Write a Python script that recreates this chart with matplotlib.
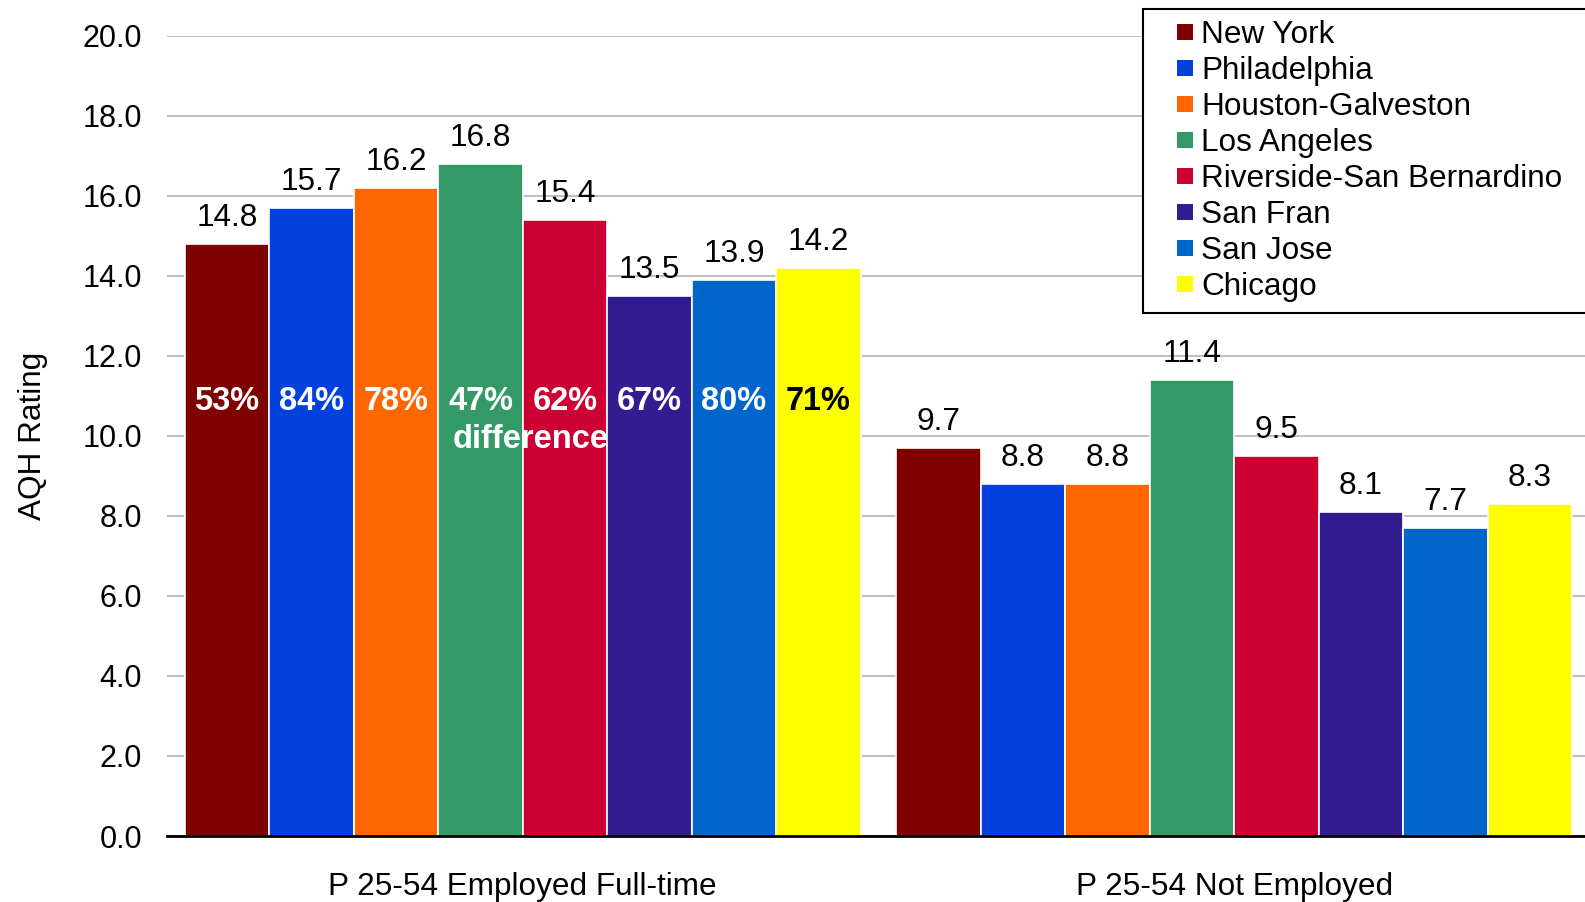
import matplotlib
matplotlib.use("Agg")
import matplotlib.pyplot as plt
import numpy as np
from matplotlib.lines import Line2D

plt.rcParams["font.family"] = ["Liberation Sans", "DejaVu Sans"]

# Data
categories = ["P 25-54 Employed Full-time", "P 25-54 Not Employed"]
markets = ["New York", "Philadelphia", "Houston-Galveston", "Los Angeles",
           "Riverside-San Bernardino", "San Fran", "San Jose", "Chicago"]
employed_fulltime = [14.8, 15.7, 16.2, 16.8, 15.4, 13.5, 13.9, 14.2]
not_employed = [9.7, 8.8, 8.8, 11.4, 9.5, 8.1, 7.7, 8.3]
pct_difference = [53, 84, 78, 47, 62, 67, 80, 71]

colors = ["#800000", "#0241DE", "#FF6600", "#339966",
          "#CC0033", "#331C8F", "#0066CC", "#FFFF00"]
pct_text_colors = ["white"] * 7 + ["black"]

FS = 22
FS_TEXT = 22.7
FS_VALUE = 22.8
FS_PCT = 23.5

fig = plt.figure(figsize=(15.85, 9.02), dpi=100)
W, H = 1585, 902
ax = fig.add_axes([167 / W, 1 - 836 / H, (1590 - 167) / W, (836 - 35.7) / H])

x = np.arange(len(categories))
n = len(markets)
group_w = 0.95
w = group_w / n

for i, m in enumerate(markets):
    vals = [employed_fulltime[i], not_employed[i]]
    pos = x - group_w / 2 + w * (i + 0.5)
    bars = ax.bar(pos, vals, w, color=colors[i], edgecolor="white",
                  linewidth=1.2, label=m, zorder=3)
    ax.bar_label(bars, labels=[f"{v:.1f}" for v in vals], padding=8,
                 fontsize=FS_VALUE, color="black")
    ax.text(pos[0], 10.85, f"{pct_difference[i]}%", ha="center", va="center",
            fontsize=FS_PCT, fontweight="bold", color=pct_text_colors[i],
            zorder=4)
    if m == "Los Angeles":
        ax.annotate("difference", xy=(pos[0], 9.92), xytext=(-20, 0),
                    textcoords="offset points", ha="left", va="center",
                    fontsize=FS_PCT, fontweight="bold", color="white",
                    zorder=4)

ax.set_xlim(-0.5, len(categories) - 0.5)
ax.set_ylim(0, 20)
ax.set_yticks(np.arange(0, 20.1, 2))
ax.set_yticklabels([f"{t:.1f}" for t in np.arange(0, 20.1, 2)])
ax.set_xticks(x)
ax.set_xticklabels(categories)
ax.tick_params(axis="y", length=0, pad=18, labelsize=FS)
ax.tick_params(axis="x", length=0, pad=26, labelsize=FS_TEXT)
ax.set_ylabel("AQH Rating", fontsize=FS_TEXT, labelpad=25)

ax.yaxis.grid(True, color="#C0C0C0", linewidth=1.5)
ax.set_axisbelow(True)
for s in ["top", "right", "left"]:
    ax.spines[s].set_visible(False)
ax.spines["bottom"].set_color("black")
ax.spines["bottom"].set_linewidth(2)
ax.spines["bottom"].set_zorder(5)

handles = [Line2D([], [], marker="s", linestyle="", markersize=11.5,
                  markerfacecolor=c, markeredgewidth=0) for c in colors]
leg = fig.legend(handles, markets, loc="upper left",
                 bbox_to_anchor=(1143 / W, 0.0, (1620 - 1143) / W, 1 - 9 / H),
                 mode="expand", borderaxespad=0, fontsize=FS_TEXT,
                 frameon=True, fancybox=False, framealpha=1,
                 edgecolor="black", borderpad=0.35, labelspacing=0.19,
                 handlelength=1.95, handletextpad=-0.45)
leg.get_frame().set_linewidth(1.5)

fig.savefig("out.png", dpi=100)
